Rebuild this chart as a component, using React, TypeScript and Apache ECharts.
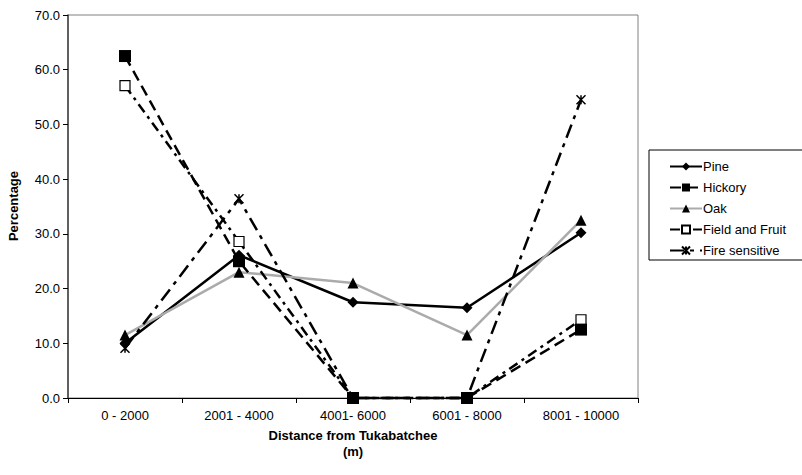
import React, { useEffect, useRef } from "react";
import * as echarts from "echarts";

const categories = ["0 - 2000", "2001 - 4000", "4001- 6000", "6001 - 8000", "8001 - 10000"];
const pine = [10.0, 26.1, 17.5, 16.5, 30.2];
const hickory = [62.5, 25.0, 0, 0, 12.5];
const oak = [11.5, 23.0, 21.0, 11.5, 32.5];
const fieldFruit = [57.1, 28.6, 0, 0, 14.3];
const fireSensitive = [9.1, 36.4, 0, 0, 54.5];
const yTicks = { min: 0, max: 70, interval: 10 };
const legendNames = ["Pine", "Hickory", "Oak", "Field and Fruit", "Fire sensitive"];

const asterisk = "path://M0,0L10,10M10,0L0,10M5,0L5,10";

// markers at zero are hidden beneath the Hickory squares in the original
const hideZero = (arr: number[]) =>
  arr.map((v) => (v === 0 ? { value: v, symbolSize: 0 } : v));

export default function App() {
  const ref = useRef<HTMLDivElement>(null);
  useEffect(() => {
    if (!ref.current) return;
    const chart = echarts.init(ref.current, null, { renderer: "svg" });
    const font = "Liberation Sans, Arial, sans-serif";
    chart.setOption({
      animation: false,
      textStyle: { fontFamily: font },
      grid: {
        left: 68, top: 15, width: 570, height: 383,
        show: true, borderColor: "#808080", borderWidth: 1,
      },
      xAxis: {
        type: "category",
        data: categories,
        boundaryGap: true,
        axisLine: { lineStyle: { color: "#000", width: 1 } },
        axisTick: { show: true, length: 5, lineStyle: { color: "#000" } },
        axisLabel: { color: "#000", fontSize: 13, fontFamily: font, margin: 11 },
        splitLine: { show: false },
      },
      yAxis: {
        type: "value",
        min: yTicks.min, max: yTicks.max, interval: yTicks.interval,
        axisLine: { show: true, lineStyle: { color: "#404040", width: 1.5 } },
        axisTick: { show: true, length: 5, lineStyle: { color: "#000" } },
        axisLabel: { color: "#000", fontSize: 13, fontFamily: font, margin: 8, formatter: (v: number) => v.toFixed(1) },
        splitLine: { show: false },
      },
      legend: {
        orient: "vertical",
        left: 664, top: 155,
        itemWidth: 32, itemHeight: 10, itemGap: 8,
        textStyle: { color: "#000", fontSize: 13, fontFamily: font, padding: [0, 0, 0, -4] },
        data: legendNames,
      },
      graphic: [
        { type: "rect", shape: { x: 649, y: 150, width: 200, height: 110 }, style: { fill: "none", stroke: "#000", lineWidth: 1 }, z: 100 },
        { type: "text", x: 13, y: 206, rotation: Math.PI / 2, style: { text: "Percentage", x: 0, y: 0, font: `bold 13px ${font}`, fill: "#000", align: "center", verticalAlign: "middle" } },
        { type: "text", style: { text: "Distance from Tukabatchee", x: 353, y: 435, font: `bold 13px ${font}`, fill: "#000", align: "center", verticalAlign: "middle" } },
        { type: "text", style: { text: "(m)", x: 353, y: 451, font: `bold 13px ${font}`, fill: "#000", align: "center", verticalAlign: "middle" } },
      ],
      series: [
        {
          name: "Pine", type: "line", data: pine, clip: false,
          symbol: "diamond", symbolSize: 11,
          lineStyle: { color: "#000", width: 2.5 },
          itemStyle: { color: "#000" },
        },
        {
          name: "Oak", type: "line", data: oak, clip: false,
          symbol: "triangle", symbolSize: 11,
          lineStyle: { color: "#ABABAB", width: 2.5 },
          itemStyle: { color: "#000" },
        },
        {
          name: "Field and Fruit", type: "line", data: hideZero(fieldFruit), clip: false,
          symbol: "rect", symbolSize: 10,
          lineStyle: { color: "#000", width: 2.5, type: [10, 5, 3, 5] },
          itemStyle: { color: "#fff", borderColor: "#000", borderWidth: 1.2 },
        },
        {
          name: "Fire sensitive", type: "line", data: hideZero(fireSensitive), clip: false,
          symbol: asterisk, symbolSize: 9, symbolKeepAspect: true,
          lineStyle: { color: "#000", width: 2.5, type: [14, 6, 4, 6] },
          itemStyle: { color: "none", borderColor: "#000", borderWidth: 1.5 },
        },
        {
          name: "Hickory", type: "line", data: hickory, clip: false, z: 5,
          symbol: "rect", symbolSize: 12,
          lineStyle: { color: "#000", width: 2.5, type: [11, 6] },
          itemStyle: { color: "#000" },
        },
      ],
    });
    return () => chart.dispose();
  }, []);
  return <div ref={ref} style={{ position: "absolute", left: 0, top: 0, width: 802, height: 475 }} />;
}
